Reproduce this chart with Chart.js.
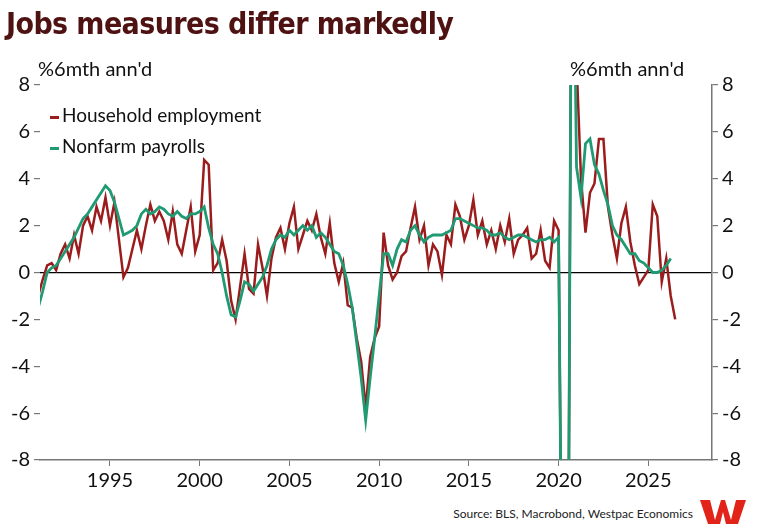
<!DOCTYPE html>
<html>
<head>
<meta charset="utf-8">
<script src="https://cdn.jsdelivr.net/npm/chart.js@4"></script>
<style>
  body { margin: 0; background: #fff; font-family: Lato, "Open Sans", sans-serif; }
  #wrap { position: relative; width: 757px; height: 529px; overflow: hidden; }
  #title { position: absolute; left: 6px; top: 6px; font-family: "Liberation Sans Narrow", "DejaVu Sans Condensed", sans-serif; font-weight: bold; font-size: 30px; color: #4f1212; letter-spacing: -0.6px; }
  .unit { position: absolute; top: 56px; font-size: 20px; color: #111; }
  #legend { position: absolute; left: 50px; top: 99px; font-size: 19px; color: #111; line-height: 31px; }
  #legend span.sw { display: inline-block; width: 9px; height: 3px; vertical-align: middle; margin-right: 3px; }
  #source { position: absolute; right: 64px; top: 506px; font-size: 12px; color: #222; }
  #cv { position: absolute; left: 0; top: 0; }
</style>
</head>
<body>
<div id="wrap">
  <canvas id="cv" width="757" height="500"></canvas>
  <div id="title">Jobs measures differ markedly</div>
  <div class="unit" style="left:38px">%6mth ann'd</div>
  <div class="unit" style="left:570px">%6mth ann'd</div>
  <div id="legend">
    <div><span class="sw" style="background:#9b1c1c"></span>Household employment</div>
    <div><span class="sw" style="background:#1f9a72"></span>Nonfarm payrolls</div>
  </div>
  <div id="source">Source: BLS, Macrobond, Westpac Economics</div>
  <svg style="position:absolute;left:700px;top:500px" width="46" height="24" viewBox="0 0 46 24">
    <path d="M0 0 H10 L15 20 L21 0 H25 L31 20 L36 0 H46 L38 24 H26 L23 12 L20 24 H8 Z" fill="#e2231a"/>
  </svg>
</div>
<script>
// quarterly points, first value = 1991 Q1
const startYear = 1991;
const household = [
  -1.0, -0.3, 0.3, 0.4,   0.1, 0.8, 1.2, 0.6,   1.6, 0.8, 2.0, 2.4,   1.8, 2.8, 2.2, 3.2,
  2.0, 3.0, 1.4, -0.2,    0.2, 1.0, 1.8, 1.0,   2.0, 2.9, 2.2, 2.6,   2.2, 1.4, 2.6, 1.2,
  0.8, 1.8, 2.8, 0.9,     1.6, 4.8, 4.6, 0.1,   0.4, 1.4, 0.5, -1.2,  -2.0, -0.6, 0.8, -0.7,
  -0.9, 1.2, 0.2, -1.0,   0.6, 1.5, 1.9, 1.0,   2.1, 2.8, 1.0, 1.6,   2.2, 1.8, 2.5, 1.5,
  0.8, 2.1, 0.4, -0.4,    0.4, -1.4, -1.5, -2.8, -3.8, -5.8, -3.6, -2.8, -2.3, 1.7, 0.3, -0.3,
  0.0, 0.7, 0.9, 1.9,     2.8, 1.4, 2.0, 0.3,   1.2, 0.9, -0.1, 1.6,  1.2, 2.9, 2.4, 1.4,
  2.0, 3.1, 1.6, 2.2,     1.2, 1.8, 1.0, 2.0,   1.3, 2.3, 0.8, 1.4,   1.6, 1.9, 0.6, 0.8,
  1.8, 0.5, 0.2, 2.2,     1.8, -20, -20, 20,    9.0, 4.0, 1.7, 3.4,   3.8, 5.7, 5.7, 2.8,
  1.6, 0.6, 2.1, 2.8,     1.3, 0.3, -0.5, -0.2, 0.1, 2.9, 2.4, -0.4,  0.6, -1.0, -2.0
];
const payrolls = [
  -1.5, -0.8, 0.0, 0.2,   0.3, 0.6, 0.9, 1.2,   1.5, 1.9, 2.3, 2.5,   2.8, 3.1, 3.4, 3.7,
  3.5, 3.0, 2.3, 1.6,     1.7, 1.8, 2.0, 2.5,   2.7, 2.5, 2.6, 2.8,   2.7, 2.5, 2.4, 2.6,
  2.4, 2.3, 2.5, 2.5,     2.6, 2.8, 1.9, 1.2,   0.8, 0.0, -1.0, -1.8, -1.9, -1.2, -0.4, -0.5,
  -0.8, -0.5, -0.2, 0.3,  1.0, 1.4, 1.6, 1.5,   1.8, 1.6, 1.8, 2.0,   1.8, 2.0, 1.5, 1.7,
  1.5, 1.2, 0.9, 0.8,     0.3, -0.5, -1.5, -3.0, -4.5, -6.3, -4.5, -2.8, -1.0, 0.8, 0.8, 0.3,
  1.0, 1.4, 1.3, 1.8,     2.0, 1.6, 1.3, 1.5,   1.6, 1.6, 1.6, 1.7,   1.8, 2.3, 2.3, 2.2,
  2.1, 2.0, 1.9, 1.9,     1.8, 1.6, 1.6, 1.7,   1.5, 1.4, 1.5, 1.6,   1.6, 1.5, 1.4, 1.3,
  1.4, 1.4, 1.5, 1.3,     1.5, -20, -20, 20,    4.5, 3.2, 5.5, 5.7,   4.6, 4.2, 3.5, 2.9,
  2.0, 1.6, 1.4, 1.1,     0.8, 0.8, 0.5, 0.4,   0.2, 0.0, 0.0, 0.1,   0.3, 0.6
];
const yearTicks = [1995, 2000, 2005, 2010, 2015, 2020, 2025];
const valueTicks = [-8, -6, -4, -2, 0, 2, 4, 6, 8];

const toPoints = arr => arr.map((v, i) => ({ x: startYear + i * 0.25, y: v }));

const tickFont = { family: "Lato, 'Open Sans', sans-serif", size: 20 };
const yAxis = (pos, width) => ({
  position: pos,
  min: -8, max: 8,
  afterBuildTicks: a => { a.ticks = valueTicks.map(v => ({ value: v })); },
  afterFit: a => { a.width = width; },
  ticks: { color: '#111', font: tickFont, padding: 4 },
  border: { display: pos === 'right', color: '#777', width: 1.5 },
  grid: {
    drawOnChartArea: pos === 'left',
    color: c => (c.tick && c.tick.value === 0) ? '#000' : 'rgba(0,0,0,0)',
    tickColor: '#777', tickLength: 6, lineWidth: 1.2
  }
});

new Chart(document.getElementById('cv'), {
  type: 'line',
  data: {
    datasets: [
      { label: 'Household employment', data: toPoints(household), borderColor: '#9b1c1c', borderWidth: 2.5, pointRadius: 0, tension: 0, order: 2 },
      { label: 'Nonfarm payrolls', data: toPoints(payrolls), borderColor: '#1f9a72', borderWidth: 2.8, pointRadius: 0, tension: 0, order: 1 }
    ]
  },
  options: {
    responsive: false,
    animation: false,
    layout: { padding: { top: 85, left: 0, right: 0, bottom: 0 } },
    plugins: { legend: { display: false }, tooltip: { enabled: false } },
    scales: {
      x: {
        type: 'linear', min: 1991.1, max: 2028.55,
        afterBuildTicks: a => { a.ticks = yearTicks.map(v => ({ value: v })); },
        afterFit: a => { a.height = 40; },
        ticks: { color: '#111', font: tickFont, callback: v => String(v) },
        border: { color: '#777', width: 1.5 },
        grid: { drawOnChartArea: false, tickColor: '#777', tickLength: 6 }
      },
      y: yAxis('left', 40),
      y2: yAxis('right', 45)
    }
  }
});
</script>
</body>
</html>
